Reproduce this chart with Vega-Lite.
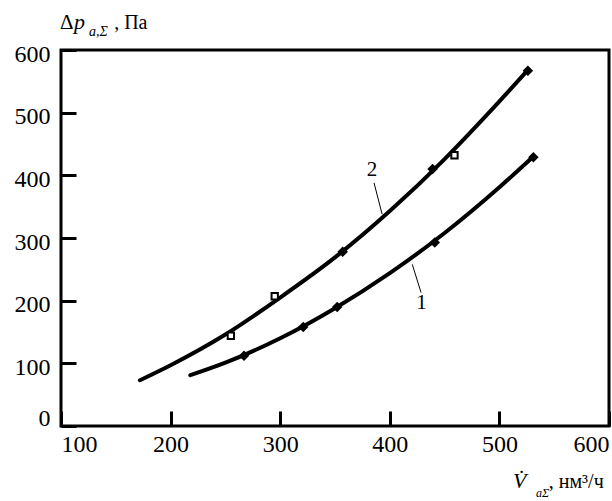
{
  "$schema": "https://vega.github.io/schema/vega-lite/v6.json",
  "width": 548,
  "height": 376,
  "autosize": {"type": "none"},
  "padding": {"left": 61, "top": 50, "right": 3, "bottom": 75},
  "background": "white",
  "config": {
    "view": {"stroke": "black", "strokeWidth": 3},
    "font": "Liberation Serif",
    "axis": {"grid": false, "domain": false, "labelFont": "Liberation Serif", "labelFontSize": 24, "labelColor": "black", "tickColor": "black", "tickWidth": 3, "tickSize": -15, "title": null}
  },
  "datasets": {
    "curves": [
      {"curve": "2", "v": 172, "dp": 73},
      {"curve": "2", "v": 200, "dp": 97},
      {"curve": "2", "v": 250, "dp": 146},
      {"curve": "2", "v": 300, "dp": 205},
      {"curve": "2", "v": 350, "dp": 269},
      {"curve": "2", "v": 400, "dp": 343},
      {"curve": "2", "v": 450, "dp": 426},
      {"curve": "2", "v": 500, "dp": 518},
      {"curve": "2", "v": 526, "dp": 568},
      {"curve": "1", "v": 218, "dp": 81},
      {"curve": "1", "v": 250, "dp": 101},
      {"curve": "1", "v": 300, "dp": 140},
      {"curve": "1", "v": 350, "dp": 188},
      {"curve": "1", "v": 400, "dp": 244},
      {"curve": "1", "v": 450, "dp": 308},
      {"curve": "1", "v": 500, "dp": 381},
      {"curve": "1", "v": 531, "dp": 430}
    ],
    "points": [
      {"curve": "2", "kind": "open", "v": 255, "dp": 144},
      {"curve": "2", "kind": "open", "v": 295, "dp": 207},
      {"curve": "2", "kind": "open", "v": 459, "dp": 432},
      {"curve": "2", "kind": "filled", "v": 357, "dp": 278},
      {"curve": "2", "kind": "filled", "v": 439, "dp": 410},
      {"curve": "2", "kind": "filled", "v": 526, "dp": 567},
      {"curve": "1", "kind": "filled", "v": 267, "dp": 112},
      {"curve": "1", "kind": "filled", "v": 321, "dp": 158},
      {"curve": "1", "kind": "filled", "v": 352, "dp": 190},
      {"curve": "1", "kind": "filled", "v": 441, "dp": 293},
      {"curve": "1", "kind": "filled", "v": 531, "dp": 429}
    ],
    "leaders": [
      {"label": "2", "v": 385.6, "dp": 388, "v2": 393, "dp2": 338, "lv": 383.8, "ldp": 409},
      {"label": "1", "v": 420.5, "dp": 258, "v2": 428.5, "dp2": 213, "lv": 429, "ldp": 196}
    ],
    "one": [{}]
  },
  "layer": [
    {
      "data": {"name": "curves"},
      "mark": {"type": "line", "interpolate": "monotone", "color": "black", "strokeWidth": 4, "strokeCap": "round"},
      "encoding": {
        "x": {"field": "v", "type": "quantitative", "scale": {"domain": [100, 600], "nice": false, "zero": false},
          "axis": {"values": [100, 200, 300, 400, 500, 600], "labelPadding": 21,
            "labelAlign": {"condition": [{"test": "datum.value === 100", "value": "left"}, {"test": "datum.value === 600", "value": "right"}], "value": "center"}}},
        "y": {"field": "dp", "type": "quantitative", "scale": {"domain": [0, 600], "nice": false},
          "axis": {"values": [0, 100, 200, 300, 400, 500, 600], "labelPadding": 26, "labelOffset": 4,
            "labelBaseline": {"condition": {"test": "datum.value === 0", "value": "bottom"}, "value": "middle"}}},
        "detail": {"field": "curve"}
      }
    },
    {
      "data": {"name": "points"},
      "transform": [{"filter": "datum.kind === 'filled'"}],
      "mark": {"type": "point", "shape": "diamond", "filled": true, "color": "black", "size": 110, "opacity": 1},
      "encoding": {"x": {"field": "v", "type": "quantitative"}, "y": {"field": "dp", "type": "quantitative"}}
    },
    {
      "data": {"name": "points"},
      "transform": [{"filter": "datum.kind === 'open'"}],
      "mark": {"type": "point", "shape": "square", "filled": true, "fill": "white", "stroke": "black", "strokeWidth": 2, "size": 40, "opacity": 1},
      "encoding": {"x": {"field": "v", "type": "quantitative"}, "y": {"field": "dp", "type": "quantitative"}}
    },
    {
      "data": {"name": "leaders"},
      "mark": {"type": "rule", "color": "black", "strokeWidth": 1},
      "encoding": {"x": {"field": "v", "type": "quantitative"}, "y": {"field": "dp", "type": "quantitative"}, "x2": {"field": "v2"}, "y2": {"field": "dp2"}}
    },
    {
      "data": {"name": "leaders"},
      "mark": {"type": "text", "font": "Liberation Serif", "fontSize": 21, "color": "black", "baseline": "middle", "align": "center"},
      "encoding": {"x": {"field": "lv", "type": "quantitative"}, "y": {"field": "ldp", "type": "quantitative"}, "text": {"field": "label"}}
    },
    {
      "data": {"name": "one"},
      "mark": {"type": "text", "text": "Δ", "font": "Liberation Serif", "fontSize": 21, "color": "black", "align": "left", "baseline": "alphabetic"},
      "encoding": {"x": {"datum": 99.1}, "y": {"datum": 633.5}}
    },
    {
      "data": {"name": "one"},
      "mark": {"type": "text", "text": "p", "font": "Liberation Serif", "fontStyle": "italic", "fontSize": 22, "color": "black", "align": "left", "baseline": "alphabetic"},
      "encoding": {"x": {"datum": 111.9}, "y": {"datum": 633.5}}
    },
    {
      "data": {"name": "one"},
      "mark": {"type": "text", "text": "a,Σ", "font": "Liberation Serif", "fontStyle": "italic", "fontSize": 14, "color": "black", "align": "left", "baseline": "alphabetic"},
      "encoding": {"x": {"datum": 125.5}, "y": {"datum": 622.3}}
    },
    {
      "data": {"name": "one"},
      "mark": {"type": "text", "text": ", Па", "font": "Liberation Serif", "fontSize": 20, "color": "black", "align": "left", "baseline": "alphabetic"},
      "encoding": {"x": {"datum": 148.5}, "y": {"datum": 633.5}}
    },
    {
      "data": {"name": "one"},
      "mark": {"type": "text", "text": "V̇", "font": "Liberation Serif", "fontStyle": "italic", "fontSize": 22, "color": "black", "align": "left", "baseline": "alphabetic"},
      "encoding": {"x": {"datum": 512.4}, "y": {"datum": -98.9}}
    },
    {
      "data": {"name": "one"},
      "mark": {"type": "text", "text": "aΣ", "font": "Liberation Serif", "fontStyle": "italic", "fontSize": 12, "color": "black", "align": "left", "baseline": "alphabetic"},
      "encoding": {"x": {"datum": 533.4}, "y": {"datum": -113.3}}
    },
    {
      "data": {"name": "one"},
      "mark": {"type": "text", "text": ", нм³/ч", "font": "Liberation Serif", "fontSize": 20, "color": "black", "align": "left", "baseline": "alphabetic"},
      "encoding": {"x": {"datum": 545}, "y": {"datum": -98.9}}
    }
  ]
}
